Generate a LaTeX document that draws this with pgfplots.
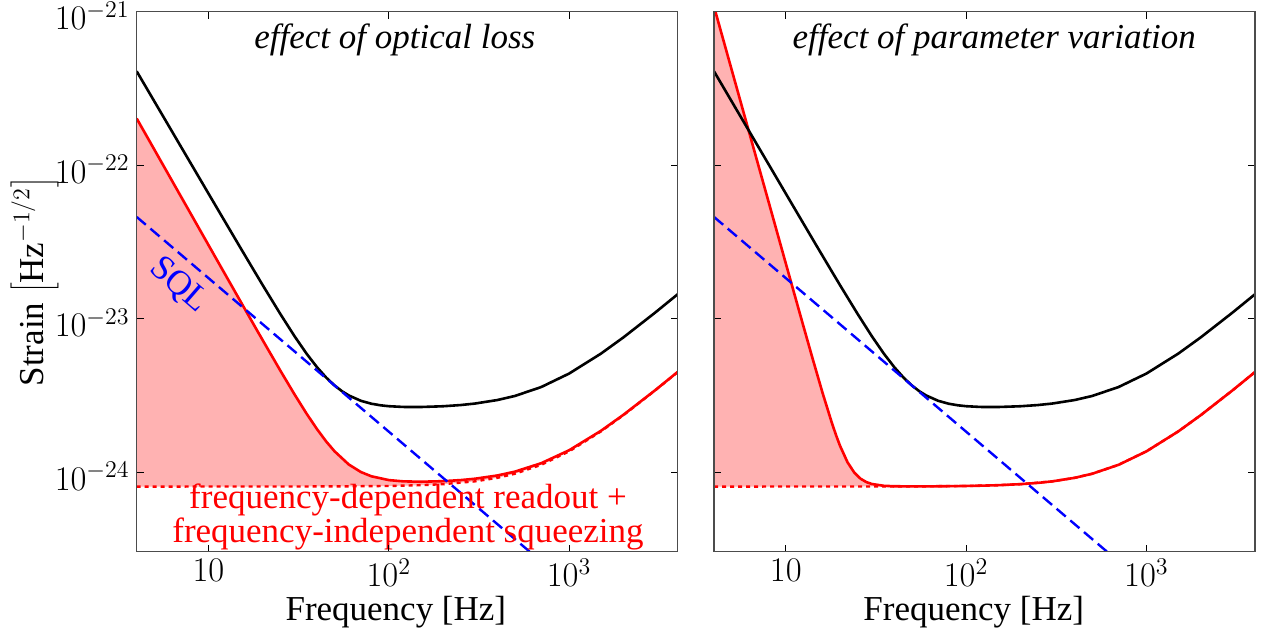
\documentclass[border=0pt]{standalone}
\usepackage{fontspec}
\setmainfont{Liberation Serif}
\usepackage{pgfplots}
\pgfplotsset{compat=1.18}
\definecolor{fillpink}{RGB}{255,178,178}
\begin{document}
\begin{tikzpicture}
\useasboundingbox (-68.35pt,-42pt) rectangle (562.65pt,275.85pt);
\begin{axis}[
  xmode=log, ymode=log,
  scale only axis, width=270.5pt, height=270pt,
  xmin=4, xmax=4000, ymin=3.05e-25, ymax=1e-21,
  xtick={10,100,1000}, xticklabels={$10$,$10^2$,$10^3$},
  ytick={1e-24,1e-23,1e-22,1e-21},
  tick align=inside,
  major tick length=3.5pt, minor tick length=0pt,
  axis line style={black!70, line width=0.6pt},
  tick style={black, line width=0.5pt},
  tick label style={font=\fontsize{16.5}{17}\selectfont},
  yticklabel style={yshift=-2pt},
  label style={font=\fontsize{17.5}{18}\selectfont},
  xlabel={Frequency [Hz]},
  xlabel style={at={(axis description cs:0.479,-0.111)}, anchor=center},
  axis on top,
  ylabel={Strain $\left[\mathrm{Hz}^{-1/2}\right]$},
  ylabel style={at={(axis description cs:-0.189,0.5)}, anchor=center}]
\addplot[fill=fillpink, draw=none] coordinates {
(4,2.018e-22) (5,1.272e-22) (6,8.718e-23) (7,6.338e-23) (8,4.808e-23) (10,3.029e-23) (12,2.078e-23) (15,1.311e-23) (18,9.008e-24) (20,7.262e-24) (25,4.623e-24) (30,3.229e-24) (35,2.418e-24) (40,1.916e-24) (45,1.591e-24) (50,1.376e-24) (60,1.128e-24) (70,1.0077e-24) (80,9.454e-25) (100,8.929e-25) (120,8.761e-25) (150,8.710e-25) (200,8.785e-25) (250,8.928e-25) (300,9.111e-25) (400,9.569e-25) (500,1.0131e-24) (700,1.1497e-24) (1000,1.3964e-24) (1500,1.8678e-24) (2000,2.3756e-24) (3000,3.435e-24) (4000,4.519e-24)
(4000,4.5117e-24) (3000,3.4259e-24) (2000,2.3624e-24) (1500,1.8510e-24) (1000,1.3738e-24) (700,1.1222e-24) (500,9.818e-25) (400,9.236e-25) (300,8.757e-25) (200,8.399e-25) (150,8.269e-25) (100,8.176e-25) (50,8.119e-25) (4,8.1e-25)
};
\addplot[red, line width=1.2pt, dash pattern=on 2pt off 2pt] coordinates {
(4,8.1e-25) (50,8.119e-25) (100,8.176e-25) (150,8.269e-25) (200,8.399e-25) (300,8.757e-25) (400,9.236e-25) (500,9.818e-25) (700,1.1222e-24) (1000,1.3738e-24) (1500,1.8510e-24) (2000,2.3624e-24) (3000,3.4259e-24) (4000,4.5117e-24)
};
\addplot[red, line width=1.3pt] coordinates {
(4,2.018e-22) (5,1.272e-22) (6,8.718e-23) (7,6.338e-23) (8,4.808e-23) (10,3.029e-23) (12,2.078e-23) (15,1.311e-23) (18,9.008e-24) (20,7.262e-24) (25,4.623e-24) (30,3.229e-24) (35,2.418e-24) (40,1.916e-24) (45,1.591e-24) (50,1.376e-24) (60,1.128e-24) (70,1.0077e-24) (80,9.454e-25) (100,8.929e-25) (120,8.761e-25) (150,8.710e-25) (200,8.785e-25) (250,8.928e-25) (300,9.111e-25) (400,9.569e-25) (500,1.0131e-24) (700,1.1497e-24) (1000,1.3964e-24) (1500,1.8678e-24) (2000,2.3756e-24) (3000,3.435e-24) (4000,4.519e-24)
};
\addplot[black, line width=1.3pt] coordinates {
(4,4.094e-22) (5,2.620e-22) (6,1.820e-22) (7,1.337e-22) (8,1.024e-22) (10,6.555e-23) (12,4.556e-23) (15,2.922e-23) (18,2.039e-23) (20,1.658e-23) (25,1.080e-23) (30,7.724e-24) (35,5.941e-24) (40,4.847e-24) (45,4.148e-24) (50,3.691e-24) (55,3.385e-24) (60,3.177e-24) (70,2.931e-24) (80,2.806e-24) (90,2.740e-24) (100,2.703e-24) (120,2.673e-24) (150,2.670e-24) (200,2.701e-24) (250,2.750e-24) (300,2.812e-24) (400,2.965e-24) (500,3.151e-24) (700,3.602e-24) (1000,4.410e-24) (1500,5.942e-24) (2000,7.583e-24) (3000,1.0997e-23) (4000,1.4482e-23)
};
\addplot[blue, line width=1.2pt, dash pattern=on 6pt off 3pt] coordinates {
(4,4.6125e-23) (4000,4.6125e-26)
};
\node[font=\fontsize{17.5}{18}\selectfont\itshape] at (rel axis cs:0.477,0.948) {effect of optical loss};
\node[font=\fontsize{17.5}{17}\selectfont, text=red, align=center] at (rel axis cs:0.5015,0.065) {frequency-dependent readout +\\frequency-independent squeezing};
\node[font=\fontsize{17.5}{18}\selectfont, text=blue, rotate=-41] at (rel axis cs:0.078,0.493) {SQL};
\end{axis}
\begin{axis}[
  at={(288.65pt,0pt)},
  xmode=log, ymode=log,
  scale only axis, width=270.5pt, height=270pt,
  xmin=4, xmax=4000, ymin=3.05e-25, ymax=1e-21,
  xtick={10,100,1000}, xticklabels={$10$,$10^2$,$10^3$},
  ytick={1e-24,1e-23,1e-22,1e-21}, yticklabels={},
  tick align=inside,
  major tick length=3.5pt, minor tick length=0pt,
  axis line style={black!70, line width=0.6pt},
  tick style={black, line width=0.5pt},
  tick label style={font=\fontsize{16.5}{17}\selectfont},
  label style={font=\fontsize{17.5}{18}\selectfont},
  xlabel={Frequency [Hz]},
  xlabel style={at={(axis description cs:0.48,-0.111)}, anchor=center},
  axis on top]
\addplot[fill=fillpink, draw=none] coordinates {
(4,1.0797e-21) (4.5,6.585e-22) (5,4.231e-22) (5.5,2.835e-22) (6,1.967e-22) (7,1.029e-22) (8,5.876e-23) (9,3.583e-23) (10,2.302e-23) (12,1.073e-23) (14,5.660e-24) (16,3.297e-24) (18,2.111e-24) (19,1.7516e-24) (20,1.4913e-24) (22,1.1665e-24) (24,9.979e-25) (26,9.111e-25) (28,8.660e-25) (30,8.422e-25) (35,8.196e-25) (40,8.141e-25) (50,8.124e-25)
(50,8.119e-25) (4,8.1e-25)
};
\addplot[red, line width=1.2pt, dash pattern=on 2pt off 2pt] coordinates {
(4,8.1e-25) (50,8.119e-25) (100,8.176e-25) (150,8.269e-25) (200,8.399e-25) (300,8.757e-25) (400,9.236e-25) (500,9.818e-25) (700,1.1222e-24) (1000,1.3738e-24) (1500,1.8510e-24) (2000,2.3624e-24) (3000,3.4259e-24) (4000,4.5117e-24)
};
\addplot[red, line width=1.3pt] coordinates {
(4,1.0797e-21) (4.5,6.585e-22) (5,4.231e-22) (5.5,2.835e-22) (6,1.967e-22) (7,1.029e-22) (8,5.876e-23) (9,3.583e-23) (10,2.302e-23) (12,1.073e-23) (14,5.660e-24) (16,3.297e-24) (18,2.111e-24) (19,1.7516e-24) (20,1.4913e-24) (22,1.1665e-24) (24,9.979e-25) (26,9.111e-25) (28,8.660e-25) (30,8.422e-25) (35,8.196e-25) (40,8.141e-25) (50,8.124e-25) (60,8.127e-25) (70,8.137e-25) (80,8.149e-25) (100,8.176e-25) (120,8.209e-25) (150,8.269e-25) (200,8.399e-25) (250,8.562e-25) (300,8.757e-25) (400,9.236e-25) (500,9.818e-25) (700,1.1222e-24) (1000,1.3738e-24) (1500,1.8510e-24) (2000,2.3624e-24) (3000,3.4259e-24) (4000,4.5117e-24)
};
\addplot[black, line width=1.3pt] coordinates {
(4,4.094e-22) (5,2.620e-22) (6,1.820e-22) (7,1.337e-22) (8,1.024e-22) (10,6.555e-23) (12,4.556e-23) (15,2.922e-23) (18,2.039e-23) (20,1.658e-23) (25,1.080e-23) (30,7.724e-24) (35,5.941e-24) (40,4.847e-24) (45,4.148e-24) (50,3.691e-24) (55,3.385e-24) (60,3.177e-24) (70,2.931e-24) (80,2.806e-24) (90,2.740e-24) (100,2.703e-24) (120,2.673e-24) (150,2.670e-24) (200,2.701e-24) (250,2.750e-24) (300,2.812e-24) (400,2.965e-24) (500,3.151e-24) (700,3.602e-24) (1000,4.410e-24) (1500,5.942e-24) (2000,7.583e-24) (3000,1.0997e-23) (4000,1.4482e-23)
};
\addplot[blue, line width=1.2pt, dash pattern=on 6pt off 3pt] coordinates {
(4,4.6125e-23) (4000,4.6125e-26)
};
\node[font=\fontsize{17.5}{18}\selectfont\itshape] at (rel axis cs:0.518,0.948) {effect of parameter variation};
\end{axis}
\end{tikzpicture}
\end{document}
